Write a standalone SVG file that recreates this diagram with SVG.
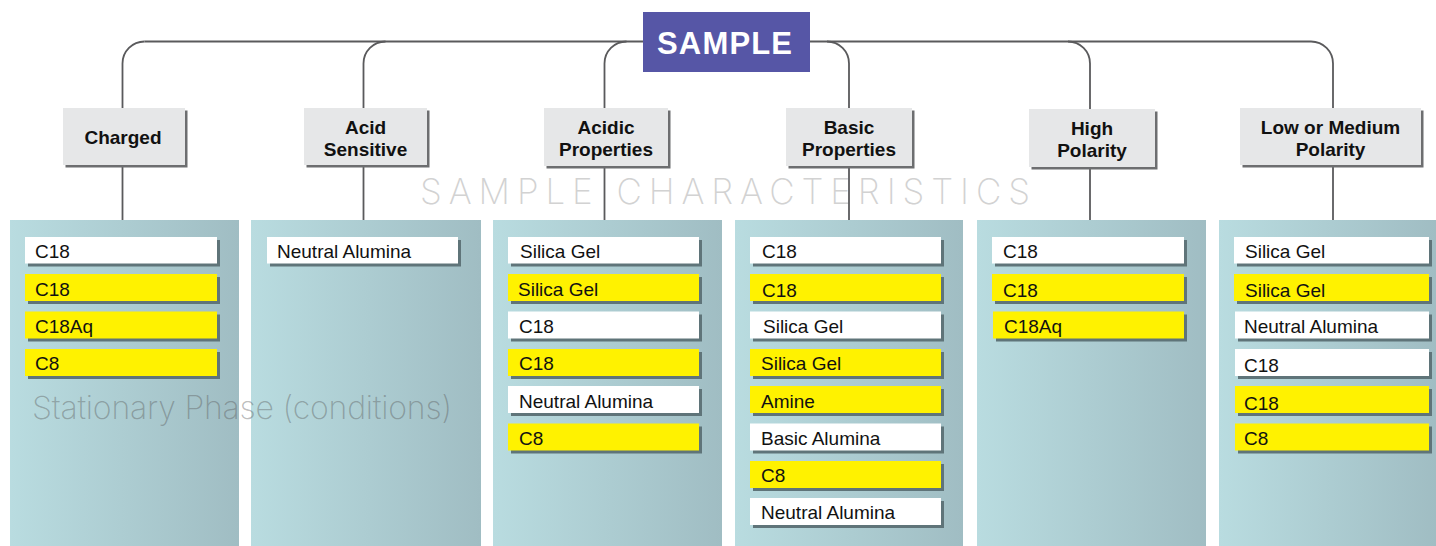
<svg xmlns="http://www.w3.org/2000/svg" width="1436" height="546" viewBox="0 0 1436 546">
<defs>
<linearGradient id="pg" x1="0" y1="0" x2="1" y2="0">
<stop offset="0" stop-color="#b9dce0"/>
<stop offset="1" stop-color="#a0bdc3"/>
</linearGradient>
<style>
.panel{fill:url(#pg)}
.cat rect.b{fill:#e6e7e8}
.cat rect.s{fill:#6d6e70}
.cat text{font-family:"Liberation Sans",Arial,sans-serif;font-weight:bold;font-size:19px;fill:#111;text-anchor:middle}
.it rect.s{fill:#5f7479}
.it rect.w{fill:#ffffff}
.it rect.y{fill:#fff200}
.it text{font-family:"Liberation Sans",Arial,sans-serif;font-size:19px;fill:#111}
.conn path{fill:none;stroke:#5a5a5c;stroke-width:1.8}
.wm{font-family:Inter,"Liberation Sans",sans-serif;font-weight:200;fill:#d2d2d2}
.sp{font-family:Inter,"Liberation Sans",sans-serif;font-weight:200;fill:#555;fill-opacity:0.4}
</style>
</defs>
<rect width="1436" height="546" fill="#ffffff"/>
<text class="wm" x="420" y="204" font-size="35" textLength="610" lengthAdjust="spacing">SAMPLE CHARACTERISTICS</text>
<g id="connectors" class="conn">
<path d="M144.5,41.5 H1311"/>
<path d="M122.5,108 V63.5 A22 22 0 0 1 144.5,41.5"/>
<path d="M363.5,108 V63.5 A22 22 0 0 1 385.5,41.5"/>
<path d="M604.5,108 V63.5 A22 22 0 0 1 626.5,41.5"/>
<path d="M849,108 V63.5 A22 22 0 0 0 827,41.5"/>
<path d="M1090,109 V63.5 A22 22 0 0 0 1068,41.5"/>
<path d="M1333,108 V63.5 A22 22 0 0 0 1311,41.5"/>
<path d="M122.5,167 V220"/>
<path d="M363.5,167 V220"/>
<path d="M604.5,168 V220"/>
<path d="M849,168 V220"/>
<path d="M1090,169 V220"/>
<path d="M1333,167 V220"/>
</g>
<g id="sample">
<rect x="643" y="12" width="167" height="60" fill="#5656a6"/>
<text x="657" y="54" font-family="'Liberation Sans',Arial,sans-serif" font-weight="bold" font-size="31" fill="#ffffff" textLength="135" lengthAdjust="spacing">SAMPLE</text>
</g>
<g id="cat-charged" class="cat">
<rect class="s" x="65.5" y="110.5" width="122" height="57"/>
<rect class="b" x="63" y="108" width="122" height="57"/>
<text x="123" y="144">Charged</text>
</g>
<g id="cat-acid-sensitive" class="cat">
<rect class="s" x="306.5" y="110.5" width="123" height="57"/>
<rect class="b" x="304" y="108" width="123" height="57"/>
<text x="365.5" y="134">Acid</text>
<text x="365.5" y="156">Sensitive</text>
</g>
<g id="cat-acidic" class="cat">
<rect class="s" x="546.5" y="110.5" width="124" height="58"/>
<rect class="b" x="544" y="108" width="124" height="58"/>
<text x="606" y="134">Acidic</text>
<text x="606" y="156">Properties</text>
</g>
<g id="cat-basic" class="cat">
<rect class="s" x="788.5" y="110.5" width="126" height="58"/>
<rect class="b" x="786" y="108" width="126" height="58"/>
<text x="849" y="134">Basic</text>
<text x="849" y="156">Properties</text>
</g>
<g id="cat-high" class="cat">
<rect class="s" x="1031.5" y="111.5" width="126" height="58"/>
<rect class="b" x="1029" y="109" width="126" height="58"/>
<text x="1092" y="135">High</text>
<text x="1092" y="157">Polarity</text>
</g>
<g id="cat-low" class="cat">
<rect class="s" x="1242.5" y="110.5" width="181" height="57"/>
<rect class="b" x="1240" y="108" width="181" height="57"/>
<text x="1330.5" y="134">Low or Medium</text>
<text x="1330.5" y="156">Polarity</text>
</g>
<g id="panel-charged">
<rect class="panel" x="10" y="220" width="229" height="326"/>
<g class="it">
<rect class="s" x="28" y="240" width="192" height="26.5"/><rect class="w" x="25" y="237" width="192" height="26.5"/><text x="35" y="258">C18</text>
<rect class="s" x="28" y="277" width="192" height="27"/><rect class="y" x="25" y="274" width="192" height="27"/><text x="35" y="296">C18</text>
<rect class="s" x="28" y="314.5" width="192" height="27"/><rect class="y" x="25" y="311.5" width="192" height="27"/><text x="35" y="333">C18Aq</text>
<rect class="s" x="28" y="352" width="192" height="27"/><rect class="y" x="25" y="349" width="192" height="27"/><text x="35" y="370">C8</text>
</g>
</g>
<g id="panel-acid-sensitive">
<rect class="panel" x="251" y="220" width="230" height="326"/>
<g class="it">
<rect class="s" x="270" y="240" width="191" height="26.5"/><rect class="w" x="267" y="237" width="191" height="26.5"/><text x="277" y="258">Neutral Alumina</text>
</g>
</g>
<g id="panel-acidic">
<rect class="panel" x="493" y="220" width="229" height="326"/>
<g class="it">
<rect class="s" x="511" y="240" width="191" height="26.5"/><rect class="w" x="508" y="237" width="191" height="26.5"/><text x="520" y="258">Silica Gel</text>
<rect class="s" x="511" y="277" width="191" height="27"/><rect class="y" x="508" y="274" width="191" height="27"/><text x="518" y="296">Silica Gel</text>
<rect class="s" x="511" y="314.5" width="191" height="27"/><rect class="w" x="508" y="311.5" width="191" height="27"/><text x="519" y="333">C18</text>
<rect class="s" x="511" y="352" width="191" height="27"/><rect class="y" x="508" y="349" width="191" height="27"/><text x="519" y="370">C18</text>
<rect class="s" x="511" y="389" width="191" height="27"/><rect class="w" x="508" y="386" width="191" height="27"/><text x="519" y="408">Neutral Alumina</text>
<rect class="s" x="511" y="426.5" width="191" height="27"/><rect class="y" x="508" y="423.5" width="191" height="27"/><text x="519" y="445">C8</text>
</g>
</g>
<g id="panel-basic">
<rect class="panel" x="735" y="220" width="228" height="326"/>
<g class="it">
<rect class="s" x="753" y="240" width="191" height="26.5"/><rect class="w" x="750" y="237" width="191" height="26.5"/><text x="762" y="258">C18</text>
<rect class="s" x="753" y="277" width="191" height="27"/><rect class="y" x="750" y="274" width="191" height="27"/><text x="762" y="297">C18</text>
<rect class="s" x="753" y="314.5" width="191" height="27"/><rect class="w" x="750" y="311.5" width="191" height="27"/><text x="763" y="333">Silica Gel</text>
<rect class="s" x="753" y="352" width="191" height="27"/><rect class="y" x="750" y="349" width="191" height="27"/><text x="761" y="370">Silica Gel</text>
<rect class="s" x="753" y="389" width="191" height="27"/><rect class="y" x="750" y="386" width="191" height="27"/><text x="761" y="408">Amine</text>
<rect class="s" x="753" y="426.5" width="191" height="27"/><rect class="w" x="750" y="423.5" width="191" height="27"/><text x="761" y="445">Basic Alumina</text>
<rect class="s" x="753" y="464" width="191" height="27"/><rect class="y" x="750" y="461" width="191" height="27"/><text x="761" y="482">C8</text>
<rect class="s" x="753" y="501" width="191" height="27"/><rect class="w" x="750" y="498" width="191" height="27"/><text x="761" y="519">Neutral Alumina</text>
</g>
</g>
<g id="panel-high">
<rect class="panel" x="977" y="220" width="229" height="326"/>
<g class="it">
<rect class="s" x="995" y="240" width="192" height="26.5"/><rect class="w" x="992" y="237" width="192" height="26.5"/><text x="1003" y="258">C18</text>
<rect class="s" x="995" y="277" width="192" height="27"/><rect class="y" x="992" y="274" width="192" height="27"/><text x="1003" y="297">C18</text>
<rect class="s" x="996" y="314.5" width="191" height="27"/><rect class="y" x="993" y="311.5" width="191" height="27"/><text x="1004" y="333">C18Aq</text>
</g>
</g>
<g id="panel-low">
<rect class="panel" x="1219" y="220" width="217" height="326"/>
<g class="it">
<rect class="s" x="1237" y="240" width="195" height="26.5"/><rect class="w" x="1234" y="237" width="195" height="26.5"/><text x="1245" y="258">Silica Gel</text>
<rect class="s" x="1237" y="277" width="195" height="27"/><rect class="y" x="1234" y="274" width="195" height="27"/><text x="1245" y="297">Silica Gel</text>
<rect class="s" x="1238" y="314.5" width="194" height="27"/><rect class="w" x="1235" y="311.5" width="194" height="27"/><text x="1244" y="333">Neutral Alumina</text>
<rect class="s" x="1238" y="352" width="194" height="27"/><rect class="w" x="1235" y="349" width="194" height="27"/><text x="1244" y="372">C18</text>
<rect class="s" x="1238" y="389" width="194" height="27"/><rect class="y" x="1235" y="386" width="194" height="27"/><text x="1244" y="410">C18</text>
<rect class="s" x="1238" y="426.5" width="194" height="27"/><rect class="y" x="1235" y="423.5" width="194" height="27"/><text x="1244" y="445">C8</text>
</g>
</g>
<text class="sp" x="32" y="419" font-size="32" textLength="420" lengthAdjust="spacing">Stationary Phase (conditions)</text>
</svg>
